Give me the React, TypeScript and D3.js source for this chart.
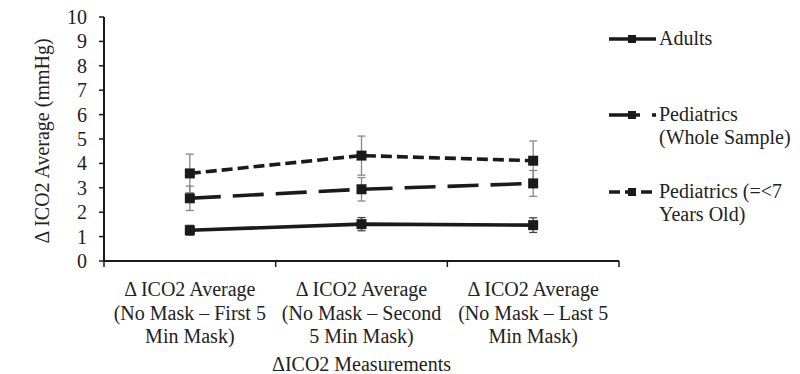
import * as d3 from "d3";

const categories = [
  ["Δ ICO2 Average", "(No Mask – First 5", "Min Mask)"],
  ["Δ ICO2 Average", "(No Mask – Second", "5 Min Mask)"],
  ["Δ ICO2 Average", "(No Mask – Last 5", "Min Mask)"],
];
const yTicks = [0, 1, 2, 3, 4, 5, 6, 7, 8, 9, 10];

const adults = [1.26, 1.51, 1.47];
const adultsErr = [0.2, 0.27, 0.3];
const pedsWhole = [2.57, 2.94, 3.18];
const pedsWholeErr = [0.5, 0.48, 0.53];
const pedsUnder7 = [3.59, 4.32, 4.11];
const pedsUnder7Err = [0.79, 0.8, 0.81];

const seriesNames = [["Adults"], ["Pediatrics", "(Whole Sample)"], ["Pediatrics (=<7", "Years Old)"]];

const FONT = '"Liberation Serif", serif';
const FS = 20;

export default function App() {
  const width = 800;
  const height = 374;
  const margin = { top: 17, left: 104, right: 181, bottom: 113 };
  const plotW = width - margin.left - margin.right;
  const plotH = height - margin.top - margin.bottom;

  const x = d3.scaleBand().domain(["0", "1", "2"]).range([0, plotW]);
  const y = d3.scaleLinear().domain([0, 10]).range([plotH, 0]);
  const cxOf = (i: number) => (x(String(i)) ?? 0) + x.bandwidth() / 2;

  const series = [
    { vals: adults, err: adultsErr, dash: "none", errColor: "#444" },
    { vals: pedsWhole, err: pedsWholeErr, dash: "31 12", errColor: "#888" },
    { vals: pedsUnder7, err: pedsUnder7Err, dash: "11 5", errColor: "#888" },
  ];

  const line = d3
    .line<number>()
    .x((_, i) => cxOf(i))
    .y((d) => y(d));

  const legendY = [39, 115, 192];

  return (
    <svg width={width} height={height} style={{ position: "absolute", left: 0, top: 0, background: "#fff" }}>
      <g transform={`translate(${margin.left},${margin.top})`}>
        {series.map((s, si) =>
          s.vals.map((v, i) => {
            const cx = cxOf(i);
            return (
              <g key={`e${si}-${i}`} stroke={s.errColor} strokeWidth={1.3}>
                <line x1={cx} x2={cx} y1={y(v - s.err[i])} y2={y(v + s.err[i])} />
                <line x1={cx - 4} x2={cx + 4} y1={y(v - s.err[i])} y2={y(v - s.err[i])} />
                <line x1={cx - 4} x2={cx + 4} y1={y(v + s.err[i])} y2={y(v + s.err[i])} />
              </g>
            );
          })
        )}
        {series.map((s, si) => (
          <path key={`l${si}`} d={line(s.vals) ?? ""} fill="none" stroke="#1a1a1a" strokeWidth={3.6} strokeDasharray={s.dash} />
        ))}
        {series.map((s, si) =>
          s.vals.map((v, i) => (
            <rect key={`m${si}-${i}`} x={cxOf(i) - 5} y={y(v) - 5} width={10} height={10} fill="#1a1a1a" />
          ))
        )}
        <line x1={0} x2={0} y1={0} y2={plotH} stroke="#1a1a1a" strokeWidth={2} />
        {yTicks.map((t) => (
          <g key={`yt${t}`}>
            <line x1={-5} x2={0} y1={y(t)} y2={y(t)} stroke="#1a1a1a" strokeWidth={1.5} />
            <text x={-17} y={y(t)} dy="0.35em" textAnchor="end" fontFamily={FONT} fontSize={FS} fill="#222">
              {t}
            </text>
          </g>
        ))}
        <line x1={0} x2={plotW} y1={plotH} y2={plotH} stroke="#1a1a1a" strokeWidth={2} />
        {[0, 1, 2, 3].map((i) => (
          <line key={`xt${i}`} x1={i * x.step()} x2={i * x.step()} y1={plotH} y2={plotH + 6} stroke="#1a1a1a" strokeWidth={1.5} />
        ))}
        {categories.map((lines, i) =>
          lines.map((l, j) => (
            <text key={`c${i}-${j}`} x={cxOf(i)} y={plotH + 35 + j * 23.5} textAnchor="middle" fontFamily={FONT} fontSize={FS} fill="#222">
              {l}
            </text>
          ))
        )}
        <text x={plotW / 2} y={plotH + 110} textAnchor="middle" fontFamily={FONT} fontSize={FS} fill="#222">
          ΔICO2 Measurements
        </text>
        <text transform={`translate(${-55},${plotH / 2 + 2}) rotate(-90)`} textAnchor="middle" fontFamily={FONT} fontSize={FS} fill="#222">
          Δ ICO2 Average (mmHg)
        </text>
      </g>
      {series.map((s, si) => (
        <g key={`lg${si}`} transform={`translate(609,${legendY[si]})`}>
          <line x1={0} x2={47} y1={0} y2={0} stroke="#1a1a1a" strokeWidth={3.6} strokeDasharray={s.dash} />
          <rect x={19} y={-4} width={8} height={8} fill="#1a1a1a" />
          {seriesNames[si].map((l, j) => (
            <text key={j} x={50} y={6 + j * 23} fontFamily={FONT} fontSize={FS} fill="#222">
              {l}
            </text>
          ))}
        </g>
      ))}
    </svg>
  );
}
